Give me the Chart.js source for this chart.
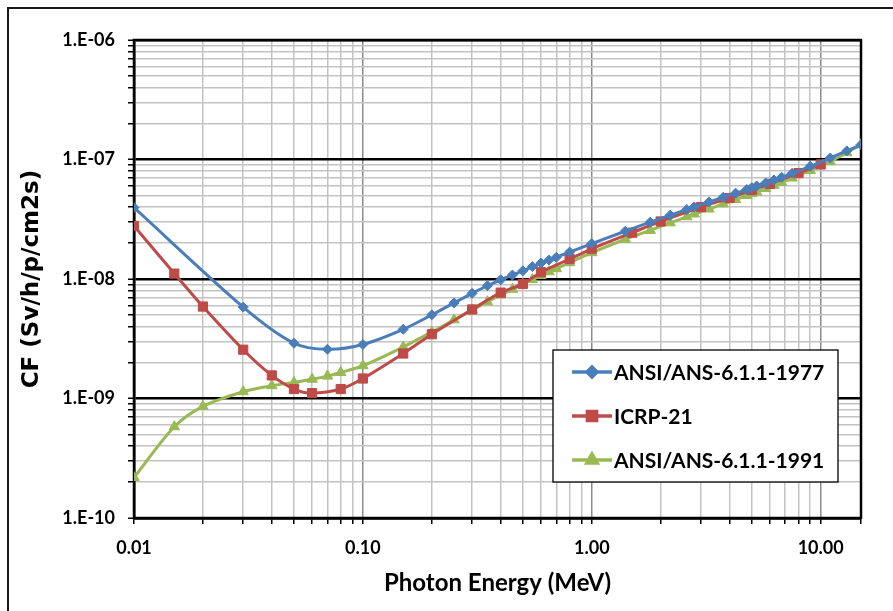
<!DOCTYPE html>
<html><head><meta charset="utf-8">
<script src="https://cdn.jsdelivr.net/npm/chart.js@4.4.1/dist/chart.umd.min.js"></script>
<style>html,body{margin:0;padding:0;background:#fff;}canvas{display:block}</style>
</head><body>
<canvas id="c" width="893" height="611"></canvas>
<script>
// ---- data (Sv/h per photon/cm2/s) ----
const seriesNames = ['ANSI/ANS-6.1.1-1977', 'ICRP-21', 'ANSI/ANS-6.1.1-1991'];
const energies1977 = [0.01,0.03,0.05,0.07,0.1,0.15,0.2,0.25,0.3,0.35,0.4,0.45,0.5,0.55,0.6,0.65,0.7,0.8,1.0,1.4,1.8,2.2,2.6,2.8,3.25,3.75,4.25,4.75,5.0,5.25,5.75,6.25,6.75,7.5,9,11,13,15];
const cf1977 = [3.96e-8,5.82e-9,2.90e-9,2.58e-9,2.83e-9,3.79e-9,5.01e-9,6.31e-9,7.59e-9,8.78e-9,9.85e-9,1.08e-8,1.17e-8,1.27e-8,1.36e-8,1.44e-8,1.52e-8,1.68e-8,1.98e-8,2.51e-8,2.99e-8,3.42e-8,3.82e-8,4.01e-8,4.41e-8,4.83e-8,5.23e-8,5.60e-8,5.80e-8,6.01e-8,6.37e-8,6.74e-8,7.11e-8,7.66e-8,8.77e-8,1.03e-7,1.18e-7,1.33e-7];
const energiesICRP21 = [0.01,0.015,0.02,0.03,0.04,0.05,0.06,0.08,0.1,0.15,0.2,0.3,0.4,0.5,0.6,0.8,1.0,1.5,2,3,4,5,6,8,10];
const cfICRP21 = [2.78e-8,1.11e-8,5.88e-9,2.56e-9,1.56e-9,1.20e-9,1.11e-9,1.20e-9,1.47e-9,2.38e-9,3.45e-9,5.56e-9,7.69e-9,9.09e-9,1.14e-8,1.47e-8,1.79e-8,2.44e-8,3.03e-8,4.00e-8,4.76e-8,5.56e-8,6.25e-8,7.69e-8,9.09e-8];
const energies1991 = [0.01,0.015,0.02,0.03,0.04,0.05,0.06,0.07,0.08,0.1,0.15,0.2,0.25,0.3,0.35,0.4,0.45,0.5,0.55,0.6,0.65,0.7,0.8,1.0,1.4,1.8,2.2,2.6,2.8,3.25,3.75,4.25,4.75,5.0,5.25,5.75,6.25,6.75,7.5,9,11,13,15];
const cf1991 = [2.18e-10,5.8e-10,8.6e-10,1.14e-9,1.28e-9,1.36e-9,1.45e-9,1.54e-9,1.65e-9,1.88e-9,2.70e-9,3.60e-9,4.55e-9,5.50e-9,6.45e-9,7.35e-9,8.2e-9,9.05e-9,9.9e-9,1.07e-8,1.15e-8,1.22e-8,1.37e-8,1.66e-8,2.15e-8,2.55e-8,2.95e-8,3.32e-8,3.50e-8,3.85e-8,4.25e-8,4.62e-8,5.00e-8,5.18e-8,5.35e-8,5.72e-8,6.08e-8,6.45e-8,7.00e-8,8.10e-8,9.60e-8,1.14e-7,1.33e-7];

// ---- axes ----
const xMin = 0.01, xMax = 15, yMin = 1e-10, yMax = 1e-6;
const xMajorTicks = [0.01, 0.1, 1, 10];
const xMajorLabels = ['0.01', '0.10', '1.00', '10.00'];
const yMajorTicks = [1e-10, 1e-9, 1e-8, 1e-7, 1e-6];
const yMajorLabels = ['1.E-10', '1.E-09', '1.E-08', '1.E-07', '1.E-06'];
const xTitle = 'Photon Energy (MeV)';
const yTitle = 'CF (Sv/h/p/cm2s)';

const colors = ['#4A7EBB', '#BE4B48', '#98B954'];
const styles = ['rectRot', 'rect', 'triangle'];
const radii = [5, 6.5, 6];

function near(a, b) { return Math.abs(Math.log10(a) - Math.log10(b)) < 1e-6; }
function isMajor(v, list) { return list.some(m => near(m, v)); }
function minorTicks(majors, max) {
  const out = [];
  majors.forEach(d => { for (let m = 1; m <= 9; m++) { const v = +(m * d).toPrecision(6); if (v <= max * 1.0000001) out.push(v); } });
  if (!out.some(v => near(v, max))) out.push(max);
  return out;
}
const xTickVals = minorTicks(xMajorTicks, xMax);
const yTickVals = minorTicks(yMajorTicks.slice(0, -1), yMax);

const pts = (xs, ys) => xs.map((x, i) => ({ x: x, y: ys[i] }));
const datasetsSrc = [[energies1977, cf1977], [energiesICRP21, cfICRP21], [energies1991, cf1991]];

const frame = {
  id: 'frame',
  beforeDraw(chart) {
    const c = chart.ctx;
    c.save(); c.fillStyle = '#fff'; c.fillRect(0, 0, chart.width, chart.height);
    c.strokeStyle = '#1a1a1a'; c.lineWidth = 2;
    c.strokeRect(8, 8, chart.width + 20, chart.height + 20);
    c.restore();
  },
  beforeDatasetsDraw(chart) {
    const a = chart.chartArea, c = chart.ctx;
    c.save(); c.strokeStyle = '#000'; c.lineWidth = 2.5;
    c.strokeRect(a.left, a.top, a.right - a.left, a.bottom - a.top);
    c.restore();
  },
  afterDraw(chart) {
    const c = chart.ctx;
    const bx = 553, by = 350, bw = 285, bh = 132;
    c.save();
    c.fillStyle = '#fff'; c.fillRect(bx, by, bw, bh);
    c.strokeStyle = '#000'; c.lineWidth = 1.3; c.strokeRect(bx, by, bw, bh);
    c.font = 'bold 21px Lato';
    c.textBaseline = 'middle'; c.textAlign = 'left';
    chart.data.datasets.forEach((ds, i) => {
      const y = by + 22 + i * 44;
      c.strokeStyle = ds.borderColor; c.lineWidth = 3.5;
      c.beginPath(); c.moveTo(572, y); c.lineTo(612, y); c.stroke();
      Chart.helpers.drawPoint(c, { pointStyle: ds.pointStyle, radius: ds.pointRadius, rotation: 0, borderWidth: 1 }, 592, y);
      c.fillStyle = ds.borderColor; c.fill();
      c.fillStyle = '#000';
      c.fillText(ds.label, 614, y + 1);
    });
    c.restore();
  }
};

new Chart(document.getElementById('c'), {
  type: 'scatter',
  data: {
    datasets: datasetsSrc.map((d, i) => ({
      label: seriesNames[i],
      data: pts(d[0], d[1]),
      showLine: true,
      borderColor: colors[i],
      backgroundColor: colors[i],
      borderWidth: 3,
      tension: 0.3,
      pointStyle: styles[i],
      pointRadius: radii[i],
      pointBorderWidth: 1,
      pointBackgroundColor: colors[i],
      pointBorderColor: colors[i]
    }))
  },
  options: {
    responsive: false,
    animation: false,
    devicePixelRatio: 1,
    layout: { padding: { left: 0, top: 40, right: 32, bottom: 0 } },
    plugins: { legend: { display: false }, tooltip: { enabled: false } },
    scales: {
      x: {
        type: 'logarithmic', min: xMin, max: xMax,
        afterBuildTicks(s) { s.ticks = xTickVals.map(v => ({ value: v, major: isMajor(v, xMajorTicks) })); },
        afterFit(s) { s.height = 93; },
        grid: {
          color: ctx => ctx.tick && isMajor(ctx.tick.value, xMajorTicks) ? '#8c8c8c' : '#c3c3c3',
          lineWidth: 1.5, tickColor: '#000', tickLength: 6, tickWidth: 1.5
        },
        border: { color: '#000', width: 2.5 },
        ticks: {
          autoSkip: false, maxRotation: 0, padding: 13, color: '#000',
          font: { family: 'Lato', weight: 'bold', size: 18 },
          callback: v => { const k = xMajorTicks.findIndex(m => near(m, v)); return k >= 0 ? xMajorLabels[k] : ''; }
        },
        title: { display: true, text: xTitle, color: '#000', font: { family: 'Lato', weight: 'bold', size: 24 }, padding: { top: 0, bottom: 13 } }
      },
      y: {
        type: 'logarithmic', min: yMin, max: yMax,
        afterBuildTicks(s) { s.ticks = yTickVals.map(v => ({ value: v, major: isMajor(v, yMajorTicks) })); },
        afterFit(s) { s.width = 134; },
        grid: {
          color: ctx => ctx.tick && isMajor(ctx.tick.value, yMajorTicks) ? '#000' : '#c3c3c3',
          lineWidth: ctx => ctx.tick && isMajor(ctx.tick.value, yMajorTicks) ? 2.5 : 1.5,
          tickColor: '#000', tickLength: 6, tickWidth: 1.5
        },
        border: { color: '#000', width: 2.5 },
        ticks: {
          autoSkip: false, padding: 13, color: '#000',
          font: { family: 'Lato', weight: 'bold', size: 18 },
          callback: v => { const k = yMajorTicks.findIndex(m => near(m, v)); return k >= 0 ? yMajorLabels[k] : ''; }
        },
        title: { display: true, text: yTitle, color: '#000', font: { family: 'DejaVu Sans', weight: 'bold', size: 23 }, padding: { top: 18, bottom: 0 } }
      }
    }
  },
  plugins: [frame]
});
</script>
</body></html>
